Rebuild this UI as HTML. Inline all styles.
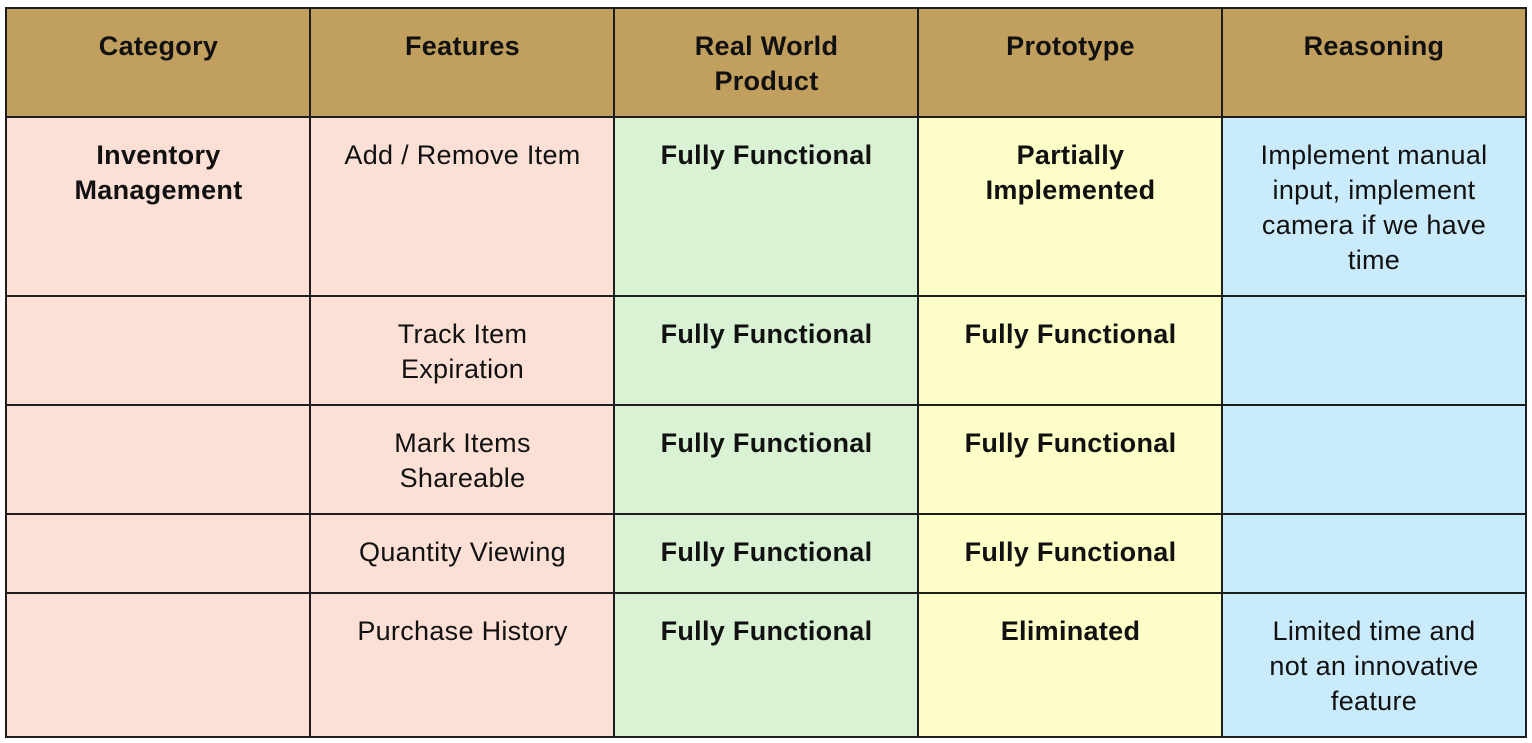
<!DOCTYPE html>
<html><head><meta charset="utf-8"><style>
body{margin:0;width:1532px;height:743px;background:#fff;position:relative;overflow:hidden;font-family:"Liberation Sans",sans-serif;}
.c{position:absolute;box-sizing:border-box;border:2px solid #1e1e1e;text-align:center;font-size:27px;line-height:35px;padding:20px 4px 0;color:#111;letter-spacing:0.3px;}
.h{background:#c19f5e;font-weight:bold;}
.p{background:#fce0d6}.g{background:#d9f2d3;font-weight:bold}.y{background:#fdfdc8;font-weight:bold}.b{background:#c9ebfb}
</style></head><body>
<div class="c h" style="left:5px;top:7px;width:307px;height:111px">Category</div>
<div class="c h" style="left:309px;top:7px;width:307px;height:111px">Features</div>
<div class="c h" style="left:613px;top:7px;width:307px;height:111px">Real World<br>Product</div>
<div class="c h" style="left:917px;top:7px;width:307px;height:111px">Prototype</div>
<div class="c h" style="left:1221px;top:7px;width:306px;height:111px">Reasoning</div>

<div class="c p" style="left:5px;top:116px;width:307px;height:181px;font-weight:bold">Inventory<br>Management</div>
<div class="c p" style="left:309px;top:116px;width:307px;height:181px">Add / Remove Item</div>
<div class="c g" style="left:613px;top:116px;width:307px;height:181px">Fully Functional</div>
<div class="c y" style="left:917px;top:116px;width:307px;height:181px">Partially<br>Implemented</div>
<div class="c b" style="left:1221px;top:116px;width:306px;height:181px">Implement manual<br>input, implement<br>camera if we have<br>time</div>

<div class="c p" style="left:5px;top:295px;width:307px;height:111px"></div>
<div class="c p" style="left:309px;top:295px;width:307px;height:111px">Track Item<br>Expiration</div>
<div class="c g" style="left:613px;top:295px;width:307px;height:111px">Fully Functional</div>
<div class="c y" style="left:917px;top:295px;width:307px;height:111px">Fully Functional</div>
<div class="c b" style="left:1221px;top:295px;width:306px;height:111px"></div>

<div class="c p" style="left:5px;top:404px;width:307px;height:111px"></div>
<div class="c p" style="left:309px;top:404px;width:307px;height:111px">Mark Items<br>Shareable</div>
<div class="c g" style="left:613px;top:404px;width:307px;height:111px">Fully Functional</div>
<div class="c y" style="left:917px;top:404px;width:307px;height:111px">Fully Functional</div>
<div class="c b" style="left:1221px;top:404px;width:306px;height:111px"></div>

<div class="c p" style="left:5px;top:513px;width:307px;height:81px"></div>
<div class="c p" style="left:309px;top:513px;width:307px;height:81px">Quantity Viewing</div>
<div class="c g" style="left:613px;top:513px;width:307px;height:81px">Fully Functional</div>
<div class="c y" style="left:917px;top:513px;width:307px;height:81px">Fully Functional</div>
<div class="c b" style="left:1221px;top:513px;width:306px;height:81px"></div>

<div class="c p" style="left:5px;top:592px;width:307px;height:146px"></div>
<div class="c p" style="left:309px;top:592px;width:307px;height:146px">Purchase History</div>
<div class="c g" style="left:613px;top:592px;width:307px;height:146px">Fully Functional</div>
<div class="c y" style="left:917px;top:592px;width:307px;height:146px">Eliminated</div>
<div class="c b" style="left:1221px;top:592px;width:306px;height:146px">Limited time and<br>not an innovative<br>feature</div>
</body></html>
